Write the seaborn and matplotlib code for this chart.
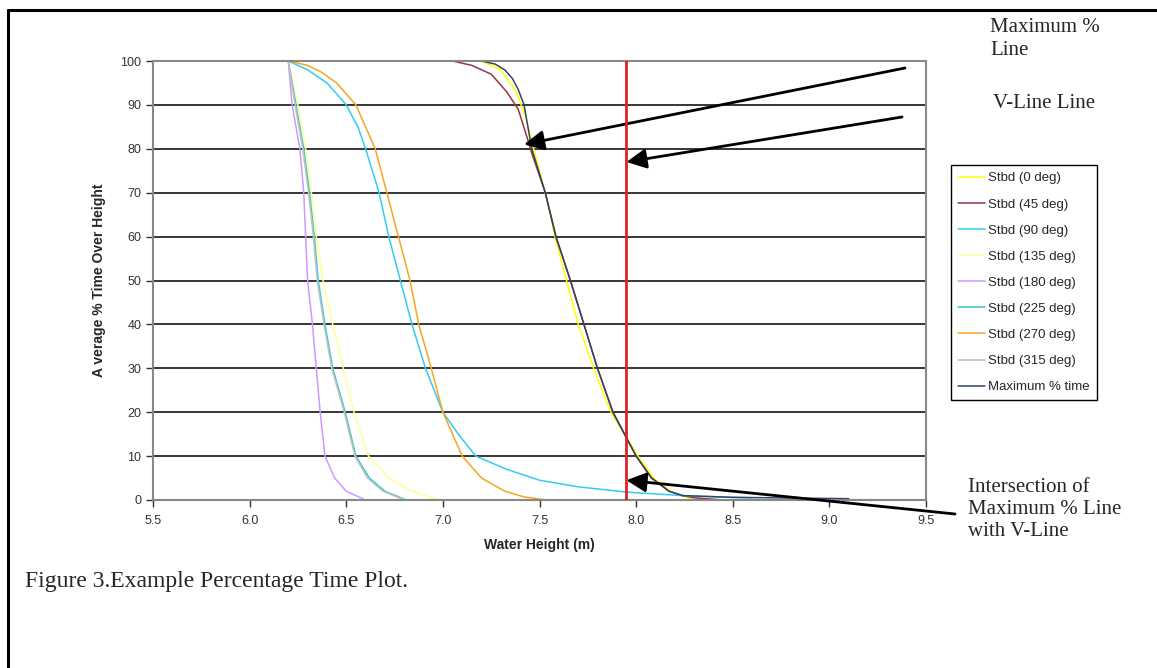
import seaborn as sns
import pandas as pd
import numpy as np
import matplotlib.pyplot as plt
from matplotlib.lines import Line2D

# series (water height m, % time)
x_0 = [5.5, 7.2, 7.3, 7.38, 7.43, 7.47, 7.53, 7.58, 7.64, 7.70, 7.78, 7.87, 7.94, 8.01, 8.09, 8.18, 8.25, 8.3]
y_0 = [100, 100, 98, 93, 87, 80, 70, 60, 50, 40, 30, 20, 15, 10, 5, 2, 0.8, 0]
x_45 = [5.5, 7.05, 7.15, 7.25, 7.33, 7.39, 7.44, 7.46, 7.53, 7.585, 7.66, 7.73, 7.80, 7.88, 7.94, 8.0, 8.08, 8.17, 8.24, 8.3, 8.45]
y_45 = [100, 100, 99, 97, 93, 89, 82, 79, 70, 60, 50, 40, 30, 20, 15, 10, 5, 2, 1, 0.5, 0]
x_90 = [5.5, 6.2, 6.3, 6.4, 6.5, 6.56, 6.6, 6.67, 6.72, 6.78, 6.84, 6.91, 7.0, 7.08, 7.17, 7.33, 7.5, 7.7, 7.95, 8.24, 8.5, 8.6]
y_90 = [100, 100, 98, 95, 90, 85, 80, 70, 60, 50, 40, 30, 20, 15, 10, 7, 4.5, 3, 1.8, 1.0, 0.6, 0.5]
x_135 = [5.5, 6.2, 6.25, 6.29, 6.32, 6.345, 6.38, 6.43, 6.485, 6.54, 6.615, 6.72, 6.84, 6.98]
y_135 = [100, 100, 90, 80, 70, 60, 50, 40, 30, 20, 10, 5, 2, 0]
x_180 = [5.5, 6.2, 6.22, 6.26, 6.28, 6.29, 6.30, 6.325, 6.345, 6.365, 6.39, 6.44, 6.5, 6.6]
y_180 = [100, 100, 90, 80, 70, 60, 50, 40, 30, 20, 10, 5, 2, 0]
x_225 = [5.5, 6.2, 6.24, 6.28, 6.31, 6.335, 6.355, 6.39, 6.43, 6.495, 6.55, 6.62, 6.70, 6.81]
y_225 = [100, 100, 90, 80, 70, 60, 50, 40, 30, 20, 10, 5, 2, 0]
x_270 = [5.5, 6.2, 6.3, 6.37, 6.45, 6.55, 6.6, 6.65, 6.71, 6.77, 6.83, 6.875, 6.94, 7.0, 7.05, 7.10, 7.2, 7.32, 7.42, 7.54]
y_270 = [100, 100, 99, 97.5, 95, 90, 85, 80, 70, 60, 50, 40, 30, 20, 15, 10, 5, 2, 0.7, 0]
x_315 = [5.5, 6.2, 6.235, 6.275, 6.305, 6.33, 6.35, 6.385, 6.425, 6.49, 6.545, 6.61, 6.69, 6.8]
y_315 = [100, 100, 90, 80, 70, 60, 50, 40, 30, 20, 10, 5, 2, 0]
x_max = [5.5, 7.2, 7.27, 7.32, 7.36, 7.39, 7.42, 7.46, 7.53, 7.585, 7.66, 7.73, 7.80, 7.88, 7.94, 8.0, 8.08, 8.17, 8.24, 8.5, 8.8, 9.1]
y_max = [100, 100, 99.3, 98, 96, 93.5, 90, 80, 70, 60, 50, 40, 30, 20, 15, 10, 5, 2, 1.0, 0.6, 0.45, 0.3]

v_line = 7.95
x_ticks = [5.5, 6.0, 6.5, 7.0, 7.5, 8.0, 8.5, 9.0, 9.5]
y_ticks = [0, 10, 20, 30, 40, 50, 60, 70, 80, 90, 100]

series = [
    ('Stbd (0 deg)', x_0, y_0, '#FFFF00'),
    ('Stbd (45 deg)', x_45, y_45, '#993344'),
    ('Stbd (90 deg)', x_90, y_90, '#33CCEE'),
    ('Stbd (135 deg)', x_135, y_135, '#FFFF99'),
    ('Stbd (180 deg)', x_180, y_180, '#CC99FF'),
    ('Stbd (225 deg)', x_225, y_225, '#33CCCC'),
    ('Stbd (270 deg)', x_270, y_270, '#F5A623'),
    ('Stbd (315 deg)', x_315, y_315, '#C0C0C0'),
    ('Maximum % time', x_max, y_max, '#334466'),
]

sns.set_style('white')
plt.rcParams['font.family'] = ['Liberation Sans', 'DejaVu Sans']

W, H = 1157, 668
fig = plt.figure(figsize=(W / 100, H / 100), dpi=100)
ax = fig.add_axes([153 / W, 1 - 500 / H, (926 - 153) / W, (500 - 61) / H])

for name, xs, ys, col in series:
    df = pd.DataFrame({'x': xs, 'y': ys})
    sns.lineplot(data=df, x='x', y='y', color=col, lw=1.1, label=name,
                 estimator=None, sort=False, ax=ax)

ax.axvline(v_line, color='#DD2222', lw=2, zorder=5)

ax.set_xlim(5.5, 9.5)
ax.set_ylim(0, 100)
ax.set_xticks(x_ticks)
ax.set_xticklabels([f'{t:.1f}' for t in x_ticks])
ax.set_yticks(y_ticks)
for t in y_ticks[1:-1]:
    ax.axhline(t, color='black', lw=1.1, zorder=0)
ax.tick_params(axis='both', labelsize=9, colors='#333333', length=5, width=1,
               direction='out', bottom=True, left=True)
ax.tick_params(axis='x', pad=6)
for s in ax.spines.values():
    s.set_color('#888888')
    s.set_linewidth(1.5)
ax.set_xlabel('Water Height (m)', fontsize=10, fontweight='bold', labelpad=8)
ax.set_ylabel('A verage % Time Over Height', fontsize=10, fontweight='bold', labelpad=10)

leg = ax.legend(loc='upper left', bbox_to_anchor=(951 / W, 1 - 165 / H),
                bbox_transform=fig.transFigure, borderaxespad=0, fontsize=9.5,
                labelspacing=1.05, handlelength=2.0, handletextpad=0.25,
                borderpad=0.55, fancybox=False, framealpha=1)
leg.get_frame().set_edgecolor('black')
leg.get_frame().set_linewidth(1)

# annotations
serif = ['Liberation Serif', 'DejaVu Serif']
arrow = dict(arrowstyle='-|>', lw=2, color='black', mutation_scale=30, shrinkA=0, shrinkB=0)
ax.annotate('', xy=(7.42, 81), xycoords='data',
            xytext=(905 / W, 1 - 68 / H), textcoords='figure fraction', arrowprops=arrow)
ax.annotate('', xy=(v_line, 77), xycoords='data',
            xytext=(902 / W, 1 - 117 / H), textcoords='figure fraction', arrowprops=arrow)
ax.annotate('', xy=(v_line, 4.5), xycoords='data',
            xytext=(955 / W, 1 - 514 / H), textcoords='figure fraction', arrowprops=arrow)

fig.text(990 / W, 1 - 18 / H, 'Maximum %\nLine', family=serif, fontsize=15,
         va='top', ha='left', linespacing=1.3)
fig.text(993 / W, 1 - 104 / H, 'V-Line Line', family=serif, fontsize=15,
         va='center', ha='left')
fig.text(968 / W, 1 - 478 / H, 'Intersection of\nMaximum % Line\nwith V-Line',
         family=serif, fontsize=15, va='top', ha='left', linespacing=1.2)
fig.text(25 / W, 1 - 582 / H, 'Figure 3.Example Percentage Time Plot.', family=serif,
         fontsize=17, va='center', ha='left')

# page frame
fig.add_artist(Line2D([8 / W, 1], [1 - 10 / H, 1 - 10 / H], color='black', lw=2.2,
                      transform=fig.transFigure))
fig.add_artist(Line2D([8 / W, 8 / W], [0, 1 - 10 / H], color='black', lw=2.2,
                      transform=fig.transFigure))

fig.savefig('out.png', dpi=100)
